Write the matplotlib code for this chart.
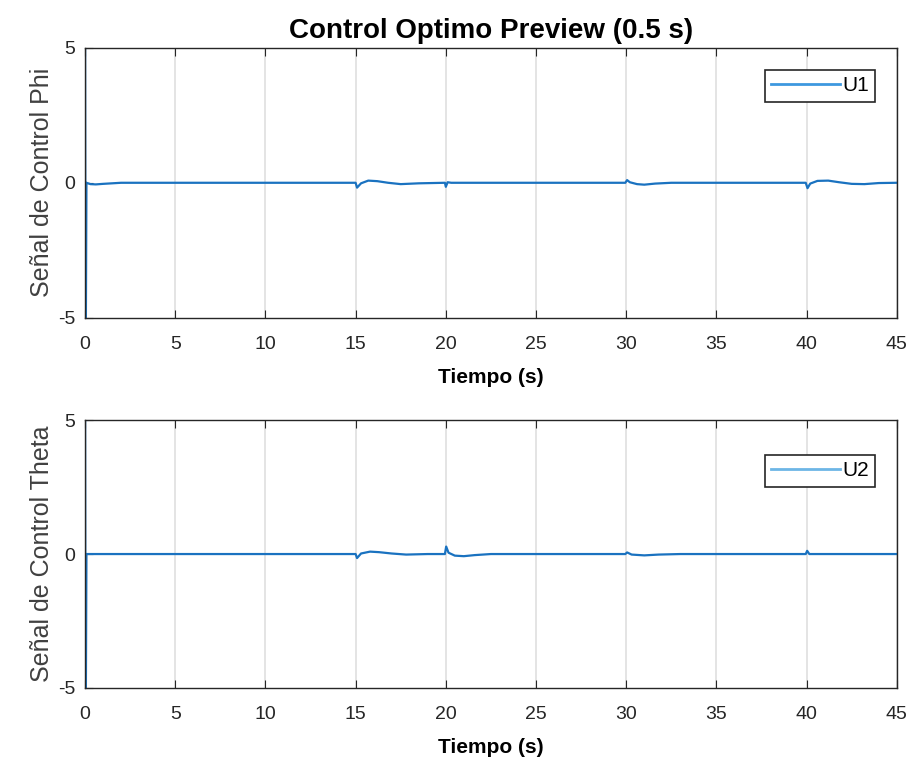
import numpy as np
import matplotlib.pyplot as plt

# datos (tiempo en s, senal de control)
t_u1 = [0, 0.03, 0.08, 0.3, 0.6, 1.0, 1.5, 2.0, 15.0, 15.08, 15.3, 15.7, 16.2, 16.8, 17.5, 18.5, 19.95,
        20.0, 20.1, 20.3, 29.95, 30.05, 30.2, 30.6, 31.0, 31.6, 32.5, 39.95, 40.05, 40.2, 40.6, 41.2,
        41.8, 42.5, 43.2, 44.0, 45.0]
u1 = [8.0, -8.0, 0.0, -0.05, -0.06, -0.04, -0.02, 0.0, 0.0, -0.18, -0.02, 0.08, 0.06, 0.0, -0.05, -0.02, 0.0,
      -0.15, 0.02, 0.0, 0.0, 0.1, 0.02, -0.05, -0.07, -0.03, 0.0, 0.0, -0.2, -0.03, 0.07, 0.08,
      0.02, -0.04, -0.05, -0.01, 0.0]

t_u2 = [0, 0.03, 0.08, 1.0, 15.0, 15.08, 15.3, 15.8, 16.3, 17.0, 17.8, 19.0, 19.95, 20.02, 20.15, 20.5,
        21.0, 21.6, 22.5, 29.95, 30.05, 30.3, 31.0, 31.8, 33.0, 39.95, 40.03, 40.15, 45.0]
u2 = [8.0, -8.0, 0.0, 0.0, 0.0, -0.15, 0.02, 0.09, 0.07, 0.02, -0.02, 0.0, 0.0, 0.28, 0.05, -0.06,
      -0.08, -0.04, 0.0, 0.0, 0.06, -0.02, -0.05, -0.02, 0.0, 0.0, 0.12, 0.0, 0.0]

xticks = [0, 5, 10, 15, 20, 25, 30, 35, 40, 45]
yticks = [-5, 0, 5]

plt.rcParams['font.family'] = ['Liberation Sans Narrow', 'Liberation Sans', 'DejaVu Sans']
plt.rcParams['font.stretch'] = 'condensed'
plt.rcParams['axes.unicode_minus'] = False

fig = plt.figure(figsize=(9.17, 7.6), dpi=100)
ax1 = fig.add_axes([0.0927, 0.582, 0.8853, 0.355])
ax2 = fig.add_axes([0.0927, 0.095, 0.8853, 0.352])

paneles = [
    (ax1, t_u1, u1, 'U1', 'Señal de Control Phi', '#3d98df', 0.918),
    (ax2, t_u2, u2, 'U2', 'Señal de Control Theta', '#6db6e6', 0.87),
]

for ax, t, u, nombre, ylab, col_leg, ytop in paneles:
    ax.plot(t, u, color='#1a72c0', linewidth=1.6, label=nombre)
    ax.set_xlim(0, 45)
    ax.set_ylim(-5, 5)
    ax.set_xticks(xticks)
    ax.set_yticks(yticks)
    ax.grid(axis='x', color='#e2e2e2', linewidth=1.3)
    ax.tick_params(direction='in', top=True, right=False, labelsize=14, length=6,
                   color='#262626', labelcolor='#262626')
    ax.tick_params(axis='x', pad=13)
    ax.tick_params(axis='y', pad=7)
    for s in ax.spines.values():
        s.set_color('#262626')
        s.set_linewidth(1.0)
    ax.set_xlabel('Tiempo (s)', fontsize=15, fontweight='bold', labelpad=11)
    ax.set_ylabel(ylab, fontsize=18, family=['Liberation Sans', 'DejaVu Sans'],
                  fontstretch='normal', color='#404040', labelpad=3)
    leg = ax.legend(loc='upper right', bbox_to_anchor=(0.973, ytop), fontsize=15, fancybox=False,
                    edgecolor='#262626', framealpha=1, handlelength=3.3, handletextpad=0.1,
                    borderpad=0.3, borderaxespad=0)
    leg.get_frame().set_linewidth(1.2)
    leg.get_lines()[0].set_color(col_leg)
    leg.get_lines()[0].set_linewidth(2.0)

ax1.set_title('Control Optimo Preview (0.5 s)', fontsize=20, fontweight='bold', pad=7)

fig.savefig('out.png', dpi=100)
